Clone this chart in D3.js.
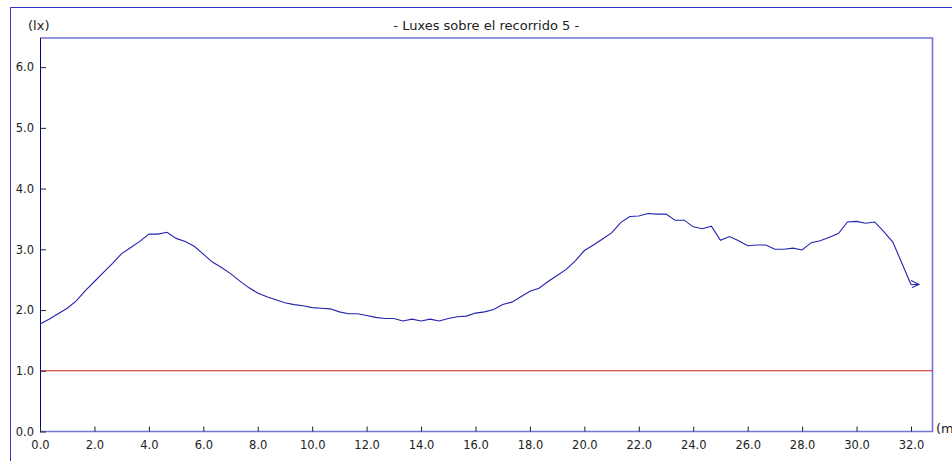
<!DOCTYPE html>
<html>
<head>
<meta charset="utf-8">
<script src="https://cdn.jsdelivr.net/npm/d3@7"></script>
<style>
  html, body { margin: 0; padding: 0; background: #fff; }
  svg { display: block; font-family: "DejaVu Sans", Verdana, sans-serif; }
</style>
</head>
<body>
<svg id="chart" width="952" height="461"></svg>
<script>
// Illuminance along walkway 5, one reading every 1/3 m
const stationStep = 1 / 3;
const luxValues = [
  1.77, 1.85, 1.94, 2.03, 2.15, 2.32, 2.47, 2.62, 2.77, 2.93,
  3.03, 3.13, 3.25, 3.25, 3.28, 3.18, 3.13, 3.05, 2.92, 2.79,
  2.70, 2.60, 2.48, 2.37, 2.28, 2.22, 2.17, 2.12, 2.09, 2.07,
  2.04, 2.03, 2.02, 1.97, 1.94, 1.94, 1.91, 1.88, 1.86, 1.86,
  1.82, 1.85, 1.82, 1.85, 1.82, 1.86, 1.89, 1.90, 1.95, 1.97,
  2.01, 2.09, 2.13, 2.22, 2.31, 2.36, 2.47, 2.57, 2.67, 2.81,
  2.98, 3.07, 3.17, 3.27, 3.44, 3.54, 3.55, 3.59, 3.58, 3.58,
  3.48, 3.48, 3.37, 3.34, 3.38, 3.15, 3.21, 3.14, 3.06, 3.07,
  3.07, 3.00, 3.00, 3.02, 2.99, 3.11, 3.14, 3.20, 3.26, 3.45,
  3.46, 3.43, 3.45, 3.29, 3.12, 2.77, 2.42
];
const thresholdLux = 1.0;
const xTicks = [0, 2, 4, 6, 8, 10, 12, 14, 16, 18, 20, 22, 24, 26, 28, 30, 32];
const yTicks = [0, 1, 2, 3, 4, 5, 6];
const titleText = "- Luxes sobre el recorrido 5 -";
const yUnit = "(lx)";
const xUnit = "(m)";

const svg = d3.select("#chart");
const plot = { left: 40, top: 38, right: 932.5, bottom: 431.5 };

const x = d3.scaleLinear().domain([0, 32.79]).range([plot.left, plot.right]);
const y = d3.scaleLinear().domain([0, 6.48]).range([plot.bottom, plot.top]);
const fmt = d3.format(".1f");

// Outer frame (runs off the right and bottom of the picture)
svg.append("path")
  .attr("d", "M10.5,470 V7.5 H960")
  .attr("fill", "none").attr("stroke", "#3434c4").attr("stroke-width", 1);

// Plot frame: light top / right / bottom, dark left axis
svg.append("path")
  .attr("d", `M${plot.left},${plot.top} H${plot.right} V${plot.bottom} H${plot.left}`)
  .attr("fill", "none").attr("stroke", "#7474d6").attr("stroke-width", 1.6);
svg.append("line")
  .attr("x1", plot.left + 0.5).attr("x2", plot.left + 0.5)
  .attr("y1", plot.top).attr("y2", plot.bottom)
  .attr("stroke", "#00008c").attr("stroke-width", 1);

// Ticks (inward) and labels
const xAxis = svg.append("g").attr("transform", `translate(0,${plot.bottom})`)
  .call(d3.axisBottom(x).tickValues(xTicks).tickFormat(fmt).tickSizeInner(-5).tickSizeOuter(0).tickPadding(9));
const yAxis = svg.append("g").attr("transform", `translate(${plot.left},0)`)
  .call(d3.axisLeft(y).tickValues(yTicks).tickFormat(fmt).tickSizeInner(-6).tickSizeOuter(0).tickPadding(6));
[xAxis, yAxis].forEach((axis) => {
  axis.select(".domain").remove();
  axis.selectAll(".tick line").attr("stroke", "#222");
  axis.selectAll("text").attr("font-size", 11.5).attr("fill", "#222")
    .attr("font-family", "DejaVu Sans, Verdana, sans-serif");
});

// Threshold line
svg.append("line")
  .attr("x1", x(0) + 1).attr("x2", plot.right)
  .attr("y1", y(thresholdLux)).attr("y2", y(thresholdLux))
  .style("stroke", "#c42222").style("stroke-width", 1.1);

// Lux curve
const points = luxValues.map((v, i) => [i * stationStep, v]);
const line = d3.line().x((d) => x(d[0])).y((d) => y(d[1]));
svg.append("path")
  .datum(points)
  .attr("d", line)
  .attr("fill", "none").attr("stroke", "#2323ae").attr("stroke-width", 1.1);

// Direction arrow at the end of the walkway
const [endX, endY] = [x(points[points.length - 1][0]), y(points[points.length - 1][1])];
const tipX = endX + 8;
svg.append("path")
  .attr("d", `M${endX},${endY} H${tipX} M${tipX - 8},${endY - 4} L${tipX},${endY} L${tipX - 7},${endY + 3}`)
  .attr("fill", "none").attr("stroke", "#2323ae").attr("stroke-width", 1.1);

// Titles and units
svg.append("text")
  .attr("x", (plot.left + plot.right) / 2).attr("y", 29.5)
  .attr("text-anchor", "middle").attr("font-size", 13).attr("fill", "#222")
  .text(titleText);
svg.append("text")
  .attr("x", 28).attr("y", 30)
  .attr("font-size", 13).attr("fill", "#222")
  .text(yUnit);
svg.append("text")
  .attr("x", 936).attr("y", 433)
  .attr("font-size", 13).attr("fill", "#222")
  .text(xUnit);
</script>
</body>
</html>
